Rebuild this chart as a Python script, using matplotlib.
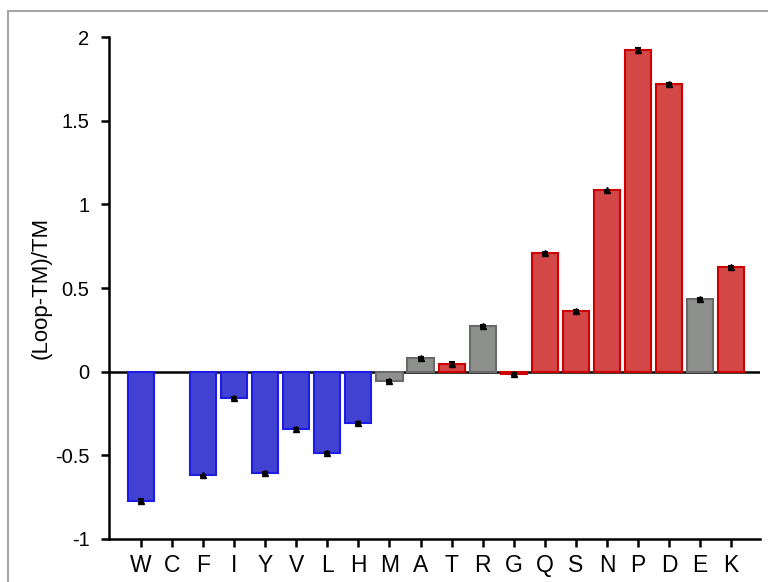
import matplotlib
matplotlib.use("Agg")
import matplotlib.pyplot as plt
from matplotlib.patches import Rectangle

plt.rcParams['font.family'] = ['Liberation Sans', 'DejaVu Sans']

residues = ["W", "C", "F", "I", "Y", "V", "L", "H", "M", "A",
            "T", "R", "G", "Q", "S", "N", "P", "D", "E", "K"]
values = [-0.77, 0.0, -0.62, -0.16, -0.605, -0.34, -0.485, -0.305, -0.055, 0.084,
          0.045, 0.272, -0.015, 0.708, 0.363, 1.083, 1.92, 1.718, 0.435, 0.627]
errors = [0.008, 0.0, 0.005, 0.006, 0.006, 0.005, 0.006, 0.007, 0.005, 0.006,
          0.010, 0.006, 0.006, 0.007, 0.006, 0.005, 0.015, 0.005, 0.007, 0.006]
groups = ["hyd", "hyd", "hyd", "hyd", "hyd", "hyd", "hyd", "hyd", "neu", "neu",
          "pol", "neu", "pol", "pol", "pol", "pol", "pol", "pol", "neu", "pol"]

fill = {"hyd": "#4141d2", "neu": "#8e908e", "pol": "#d34747"}
edge = {"hyd": "#1c1ce6", "neu": "#6a6a6a", "pol": "#cc0000"}

fig = plt.figure(figsize=(7.68, 5.82), dpi=100)
ax = fig.add_axes([109/768, 1-539/582, (760-109)/768, (539-37)/582])

# figure border
fig.patches.append(Rectangle((8/768, -0.05), 1.2, 1-11/582+0.05, transform=fig.transFigure,
                             fill=False, edgecolor="#a6a6a6", linewidth=1.5, zorder=0))

x = list(range(len(residues)))
ax.axhline(0, color="black", linewidth=1.8, zorder=1)
ax.bar(x, values, width=0.84,
       color=[fill[g] for g in groups],
       edgecolor=[edge[g] for g in groups],
       linewidth=[1.5 if v != 0 else 0 for v in values], zorder=2)
show = [i for i in x if values[i] != 0]
ax.errorbar([x[i] for i in show], [values[i] for i in show],
            yerr=[errors[i] for i in show], fmt='^', color='black',
            markersize=4, elinewidth=1.5, capsize=2.5, capthick=1.5, zorder=3)

ax.set_xlim(-1.03, 19.93)
ax.set_ylim(-1, 2)
ax.set_yticks([-1, -0.5, 0, 0.5, 1, 1.5, 2])
ax.set_yticklabels(["-1", "-0.5", "0", "0.5", "1", "1.5", "2"])
ax.set_xticks(x)
ax.set_xticklabels(residues)

for s in ["top", "right"]:
    ax.spines[s].set_visible(False)
for s in ["left", "bottom"]:
    ax.spines[s].set_linewidth(1.8)

ax.tick_params(axis='y', direction='out', length=6, width=1.8, labelsize=14.5, pad=8)
ax.tick_params(axis='x', direction='out', length=6, width=1.8, labelsize=16.5, pad=5)
ax.set_ylabel("(Loop-TM)/TM", fontsize=16)
ax.yaxis.set_label_coords(-0.088, 0.5)

fig.savefig("out.png", dpi=100)
